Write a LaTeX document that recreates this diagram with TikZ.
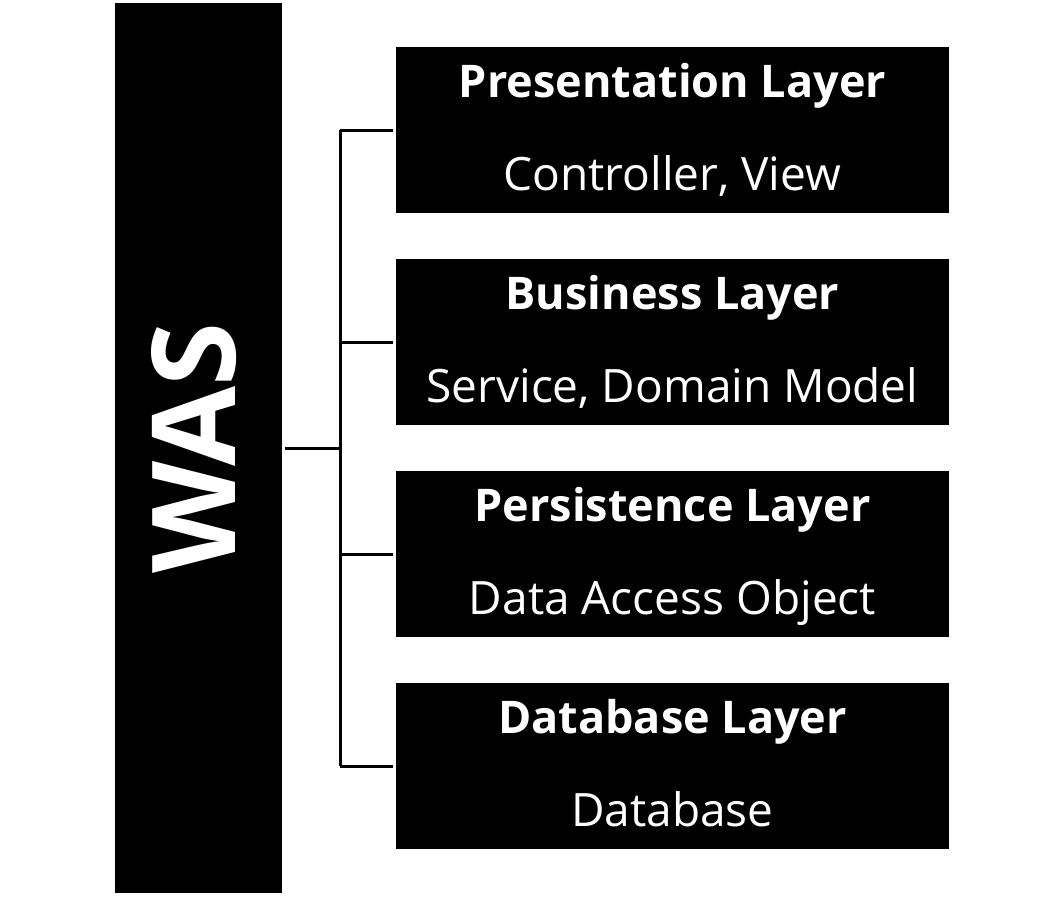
\documentclass[tikz,border=0pt]{standalone}
\usepackage{fontspec}
\setmainfont{Open Sans}
\begin{document}
\begin{tikzpicture}[x=1pt,y=-1pt,
  blackbox/.style={fill=black, draw=none, inner sep=0pt},
  layerbox/.style={blackbox, minimum width=553pt, minimum height=166pt},
  title/.style={anchor=base, inner sep=0pt, text=white, font=\fontsize{45}{50}\selectfont\bfseries},
  sub/.style={anchor=base, inner sep=0pt, text=white, font=\fontsize{46}{50}\selectfont},
  wire/.style={line width=3pt}]
\useasboundingbox (0,0) rectangle (1064,898);
% server block
\node[blackbox, minimum width=167pt, minimum height=890pt] (was) at (198.5,448) {};
\node[anchor=center, inner sep=0pt, text=white, rotate=90, font=\fontsize{116}{120}\selectfont\bfseries] (wastext) at (194,448) {WAS};
% layers
\node[layerbox] (pres) at (672.5,130) {};
\node[title] (presT) at (672.5,97) {Presentation Layer};
\node[sub] (presS) at (672.5,190) {Controller, View};
\node[layerbox] (bus) at (672.5,342) {};
\node[title] (busT) at (672.5,309) {Business Layer};
\node[sub] (busS) at (672.5,402) {Service, Domain Model};
\node[layerbox] (pers) at (672.5,554) {};
\node[title] (persT) at (672.5,521) {Persistence Layer};
\node[sub] (persS) at (672.5,614) {Data Access Object};
\node[layerbox] (db) at (672.5,766) {};
\node[title] (dbT) at (672.5,733) {Database Layer};
\node[sub] (dbS) at (672.5,826) {Database};
% connectors
\coordinate (hub) at (340,448);
\draw[wire, shorten <=3pt] (was.east) -- (hub);
\draw[wire] (hub |- pres.west) -- (hub |- db.west);
\foreach \n in {pres,bus,pers,db}
  \draw[wire, shorten >=3pt] (hub |- \n.west) -- (\n.west);
\end{tikzpicture}
\end{document}
